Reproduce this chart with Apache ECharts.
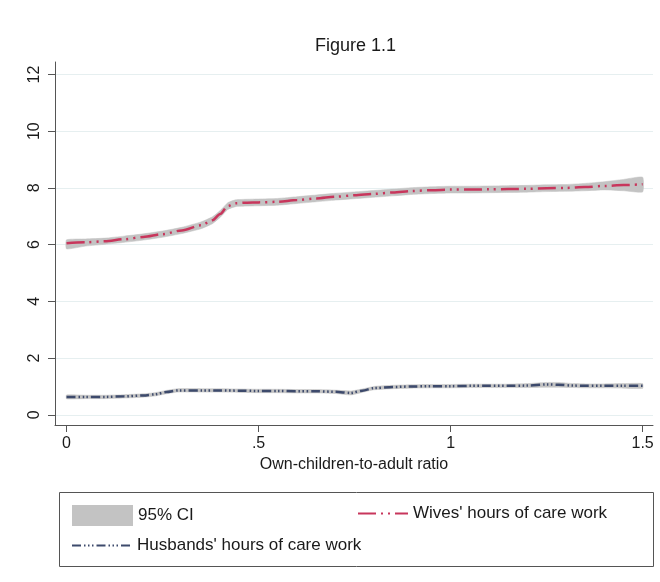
<!DOCTYPE html>
<html>
<head>
<meta charset="utf-8">
<script src="https://cdn.jsdelivr.net/npm/echarts@6/dist/echarts.min.js"></script>
<style>
html,body{margin:0;padding:0;background:#fff;}
#chart{width:660px;height:582px;}
</style>
</head>
<body>
<div id="chart"></div>
<script>
// ---- data ----
var titleText = 'Figure 1.1';
var xName = 'Own-children-to-adult ratio';
var xTicks = [0, 0.5, 1, 1.5];
var xTickLabels = ['0', '.5', '1', '1.5'];
var yTicks = [0, 2, 4, 6, 8, 10, 12];
var yTickLabels = ['0', '2', '4', '6', '8', '10', '12'];

var wivesX    = [0, 0.05, 0.1, 0.15, 0.2, 0.25, 0.3, 0.35, 0.38, 0.4, 0.42, 0.44, 0.47, 0.5, 0.55, 0.6, 0.65, 0.7, 0.75, 0.8, 0.85, 0.9, 0.95, 1.0, 1.05, 1.1, 1.15, 1.2, 1.25, 1.3, 1.35, 1.4, 1.45, 1.5];
var wivesMean = [6.05, 6.08, 6.12, 6.19, 6.27, 6.37, 6.5, 6.68, 6.86, 7.08, 7.36, 7.46, 7.48, 7.49, 7.51, 7.57, 7.63, 7.69, 7.74, 7.79, 7.84, 7.89, 7.92, 7.94, 7.94, 7.95, 7.96, 7.97, 7.99, 8.0, 8.03, 8.07, 8.1, 8.13];
var wivesLo   = [5.85, 5.95, 6.01, 6.08, 6.16, 6.26, 6.39, 6.56, 6.74, 6.96, 7.24, 7.34, 7.36, 7.37, 7.39, 7.45, 7.51, 7.57, 7.62, 7.67, 7.72, 7.77, 7.8, 7.82, 7.82, 7.83, 7.84, 7.85, 7.87, 7.88, 7.9, 7.93, 7.9, 7.86];
var wivesHi   = [6.17, 6.2, 6.23, 6.3, 6.38, 6.48, 6.61, 6.8, 6.98, 7.2, 7.48, 7.58, 7.6, 7.61, 7.63, 7.69, 7.75, 7.81, 7.86, 7.91, 7.96, 8.01, 8.04, 8.06, 8.06, 8.07, 8.08, 8.09, 8.11, 8.12, 8.16, 8.22, 8.3, 8.38];

var husbX    = [0, 0.05, 0.1, 0.15, 0.2, 0.23, 0.26, 0.29, 0.35, 0.4, 0.45, 0.5, 0.55, 0.6, 0.65, 0.7, 0.74, 0.77, 0.8, 0.85, 0.9, 0.95, 1.0, 1.05, 1.1, 1.15, 1.2, 1.25, 1.28, 1.32, 1.35, 1.4, 1.45, 1.5];
var husbMean = [0.63, 0.63, 0.63, 0.65, 0.68, 0.72, 0.8, 0.86, 0.86, 0.86, 0.85, 0.84, 0.84, 0.83, 0.83, 0.81, 0.77, 0.85, 0.94, 0.98, 1.0, 1.01, 1.01, 1.02, 1.02, 1.02, 1.03, 1.07, 1.06, 1.03, 1.02, 1.02, 1.02, 1.02];
var husbLo   = [0.56, 0.57, 0.57, 0.59, 0.62, 0.66, 0.74, 0.8, 0.8, 0.8, 0.79, 0.78, 0.78, 0.77, 0.77, 0.75, 0.7, 0.79, 0.88, 0.92, 0.94, 0.95, 0.95, 0.96, 0.96, 0.96, 0.96, 0.97, 0.97, 0.96, 0.95, 0.95, 0.94, 0.93];
var husbHi   = [0.7, 0.69, 0.69, 0.71, 0.74, 0.78, 0.86, 0.92, 0.92, 0.92, 0.91, 0.9, 0.9, 0.89, 0.89, 0.87, 0.84, 0.91, 1.0, 1.04, 1.06, 1.07, 1.07, 1.08, 1.08, 1.08, 1.1, 1.14, 1.14, 1.1, 1.09, 1.09, 1.1, 1.1];

var ciName = '95% CI';
var wivesName = "Wives' hours of care work";
var husbName = "Husbands' hours of care work";

// ---- build ----
function pairs(xs, ys) { return xs.map(function (x, i) { return [x, ys[i]]; }); }

var FONT = 'Liberation Sans, Arial, Helvetica, sans-serif';
var BAND = '#c3c3c3';
var WCOL = '#c8365c';
var HCOL = '#3d4a6c';

function bandSeries(xs, lo, hi) {
  var rows = xs.map(function (x, i) { return [x, lo[i], hi[i]]; });
  return {
    type: 'custom', name: ciName, data: rows, silent: true, z: 1,
    itemStyle: { color: BAND },
    encode: { x: 0, y: [1, 2] },
    renderItem: function (params, api) {
      if (params.dataIndex !== 0) return null;
      var top = [], bottom = [];
      for (var i = 0; i < rows.length; i++) {
        top.push(api.coord([rows[i][0], rows[i][2]]));
        bottom.push(api.coord([rows[i][0], rows[i][1]]));
      }
      var pts = top.concat(bottom.reverse());
      return { type: 'polygon', shape: { points: pts, smooth: 0.15 },
        style: { fill: BAND, stroke: BAND, lineWidth: 0.5 } };
    }
  };
}

var legendText = { fontFamily: FONT, fontSize: 17, color: '#1a1a1a' };

var chart = echarts.init(document.getElementById('chart'), null, { renderer: 'canvas' });
chart.setOption({
  animation: false,
  backgroundColor: '#ffffff',
  textStyle: { fontFamily: FONT },
  title: {
    text: titleText, left: 310, top: 32,
    textStyle: { fontFamily: FONT, fontSize: 18, fontWeight: 'normal', color: '#1a1a1a' }
  },
  grid: { left: 55, right: 7, top: 62, bottom: 157, containLabel: false },
  xAxis: {
    type: 'value', min: -0.03, max: 1.527,
    name: xName, nameLocation: 'middle', nameGap: 32,
    nameTextStyle: { fontFamily: FONT, fontSize: 16, color: '#1a1a1a' },
    axisLine: { show: true, onZero: false, lineStyle: { color: '#555', width: 1 } },
    axisTick: { show: true, length: 7, customValues: xTicks, lineStyle: { color: '#555' } },
    axisLabel: { customValues: xTicks, margin: 11, fontSize: 16, color: '#1a1a1a', fontFamily: FONT,
      formatter: function (v) { var i = xTicks.indexOf(v); return i >= 0 ? xTickLabels[i] : ''; } },
    splitLine: { show: false }
  },
  yAxis: {
    type: 'value', min: -0.36, max: 12.44,
    axisLine: { show: true, onZero: false, lineStyle: { color: '#555', width: 1 } },
    axisTick: { show: true, length: 7, customValues: yTicks, lineStyle: { color: '#555' } },
    axisLabel: { customValues: yTicks, rotate: 90, margin: 12, fontSize: 16, color: '#1a1a1a', fontFamily: FONT,
      formatter: function (v) { var i = yTicks.indexOf(v); return i >= 0 ? yTickLabels[i] : ''; } },
    splitLine: { show: true, lineStyle: { color: '#e6eff0', width: 1 } }
  },
  legend: [
    { data: [{ name: ciName, icon: 'rect', itemStyle: { color: BAND } }], left: 67, top: 500, itemWidth: 61, itemHeight: 21,
      textStyle: Object.assign({ padding: [0, 0, 0, 0] }, legendText), selectedMode: false },
    { data: [wivesName], left: 352, top: 500, itemWidth: 50, itemHeight: 21, itemStyle: { opacity: 0 },
      textStyle: Object.assign({ padding: [0, 0, 0, 0] }, legendText), selectedMode: false },
    { data: [husbName], left: 66, top: 532, itemWidth: 60, itemHeight: 21, itemStyle: { opacity: 0 },
      textStyle: Object.assign({ padding: [0, 0, 0, 0] }, legendText), selectedMode: false }
  ],
  graphic: [
    { type: 'rect', left: 57, top: 490, shape: { width: 594, height: 74 },
      style: { fill: 'none', stroke: '#555', lineWidth: 1 }, z: -1 }
  ],
  series: [
    bandSeries(wivesX, wivesLo, wivesHi),
    bandSeries(husbX, husbLo, husbHi),
    { type: 'line', name: wivesName, data: pairs(wivesX, wivesMean), symbol: 'none', smooth: 0.3, smoothMonotone: 'x',
      itemStyle: { color: WCOL },
      lineStyle: { color: WCOL, width: 2.5, type: [18, 5, 2, 5, 2, 5], cap: 'butt' }, z: 3 },
    { type: 'line', name: husbName, data: pairs(husbX, husbMean), symbol: 'none', smooth: 0.3, smoothMonotone: 'x',
      itemStyle: { color: HCOL },
      lineStyle: { color: HCOL, width: 2.5, type: [9, 3, 1.5, 2.5, 1.5, 2.5, 1.5, 3], cap: 'butt' }, z: 3 }
  ]
});
</script>
</body>
</html>
